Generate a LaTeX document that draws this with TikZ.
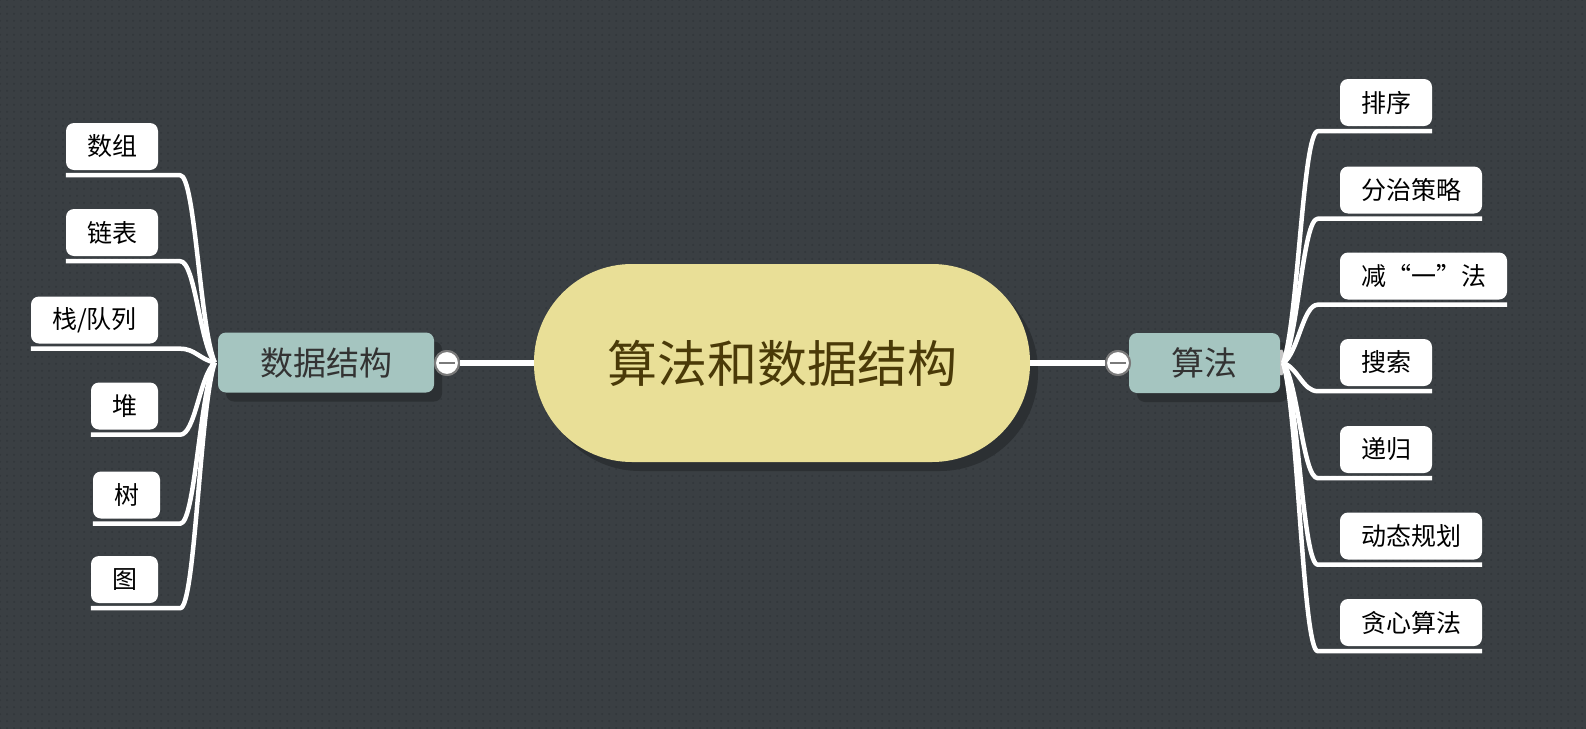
\documentclass[tikz,border=0pt]{standalone}
\usepackage{fontspec}
\setmainfont{Noto Sans CJK SC}
\usetikzlibrary{patterns,shadows}
\definecolor{bgc}{HTML}{3A3F43}
\definecolor{dotc}{HTML}{31363A}
\definecolor{tealc}{HTML}{A5C5C0}
\definecolor{rootc}{HTML}{E9DF97}
\definecolor{roottext}{HTML}{4A3A08}
\definecolor{maintext}{HTML}{333333}
\definecolor{shadowc}{HTML}{2C3033}
\definecolor{togglec}{HTML}{7A7A7A}
\pgfdeclarepatternformonly{bgdots}{\pgfpoint{-1pt}{-1pt}}{\pgfpoint{1pt}{1pt}}{\pgfpoint{7pt}{7pt}}{\pgfpathcircle{\pgfpointorigin}{1pt}\pgfusepath{fill}}
\tikzset{
  leaf/.style={fill=white, rounded corners=8pt, minimum height=47pt, inner sep=0pt,
    font=\fontsize{25}{25}\selectfont, text=black},
  mainbox/.style={fill=tealc, rounded corners=8pt, minimum height=60pt, inner sep=0pt,
    font=\fontsize{33}{33}\selectfont, text=maintext,
    general shadow={fill=shadowc, shadow xshift=8pt, shadow yshift=-9pt}},
  rootbox/.style={fill=rootc, rounded corners=98pt, minimum width=496pt, minimum height=198pt,
    inner sep=0pt, font=\fontsize{50}{50}\selectfont, text=roottext,
    general shadow={fill=shadowc, shadow xshift=8pt, shadow yshift=-9pt}},
  branch/.style={draw=white, line width=4.5pt, line join=round},
  trunk/.style={draw=white, line width=6pt},
  toggle/.style={circle, fill=white, draw=togglec, line width=2pt, minimum size=24pt, inner sep=0pt},
  minusbar/.style={draw=togglec, line width=2.5pt}
}
\begin{document}
\begin{tikzpicture}[x=1pt,y=-1pt]
\useasboundingbox (0,0) rectangle (1586,728);
\fill[bgc] (-6,-6) rectangle (1592,734);
\fill[pattern=bgdots, pattern color=dotc] (-6,-6) rectangle (1592,734);

% root and main nodes
\node[rootbox] (root) at (782,363) {算法和数据结构};
\node[mainbox, minimum width=216pt] (ds) at (326,362.5) {数据结构};
\node[mainbox, minimum width=151pt] (al) at (1204.5,363) {算法};

% trunk lines and toggles
\node[toggle] (lc) at (447,363) {};
\node[toggle] (rc) at (1118,363) {};
\draw[trunk] (lc) -- (root.west);
\draw[trunk] (root.east) -- (rc);
\node[toggle] at (lc) {};
\node[toggle] at (rc) {};
\draw[minusbar] ([xshift=-8pt]lc.center) -- ([xshift=8pt]lc.center);
\draw[minusbar] ([xshift=-8pt]rc.center) -- ([xshift=8pt]rc.center);

% left leaves
\node[leaf, minimum width=92pt] (a1) at (112,146.5) {数组};
\node[leaf, minimum width=92pt] (a2) at (112,232.5) {链表};
\node[leaf, minimum width=127pt] (a3) at (94.5,320) {栈/队列};
\node[leaf, minimum width=67pt] (a4) at (124.5,406) {堆};
\node[leaf, minimum width=67pt] (a5) at (126.5,495) {树};
\node[leaf, minimum width=67pt] (a6) at (124.5,579.5) {图};

% right leaves
\node[leaf, minimum width=92pt] (b1) at (1386,102.5) {排序};
\node[leaf, minimum width=142pt] (b2) at (1411,190) {分治策略};
\node[leaf, minimum width=167pt] (b3) at (1423.5,276) {减“一”法};
\node[leaf, minimum width=92pt] (b4) at (1386,362.5) {搜索};
\node[leaf, minimum width=92pt] (b5) at (1386,449.5) {递归};
\node[leaf, minimum width=142pt] (b6) at (1411,536) {动态规划};
\node[leaf, minimum width=142pt] (b7) at (1411,622.5) {贪心算法};

% small grey junction at the right
\fill[gray!45] ([yshift=13pt]al.east) .. controls +(6,-6) and +(6,6) .. ([yshift=-12pt]al.east) -- cycle;

% left branches
\draw[branch] ([yshift=-5pt]a1.south west) -- ([xshift=22pt,yshift=-5pt]a1.south east)
  .. controls +(15,0) and +(-15,-34) .. ([xshift=-3pt]ds.west);
\draw[branch] ([yshift=-5pt]a2.south west) -- ([xshift=22pt,yshift=-5pt]a2.south east)
  .. controls +(15,0) and +(-15,-18) .. ([xshift=-3pt]ds.west);
\draw[branch] ([yshift=-5pt]a3.south west) -- ([xshift=22pt,yshift=-5pt]a3.south east)
  .. controls +(15,0) and +(-15,-3) .. ([xshift=-3pt]ds.west);
\draw[branch] ([yshift=-5pt]a4.south west) -- ([xshift=22pt,yshift=-5pt]a4.south east)
  .. controls +(15,0) and +(-15,13) .. ([xshift=-3pt]ds.west);
\draw[branch] ([yshift=-5pt]a5.south west) -- ([xshift=20pt,yshift=-5pt]a5.south east)
  .. controls +(15,0) and +(-15,29) .. ([xshift=-3pt]ds.west);
\draw[branch] ([yshift=-5pt]a6.south west) -- ([xshift=22pt,yshift=-5pt]a6.south east)
  .. controls +(15,0) and +(-15,44) .. ([xshift=-3pt]ds.west);

% right branches
\draw[branch] ([yshift=-5pt]b1.south east) -- ([xshift=-22pt,yshift=-5pt]b1.south west)
  .. controls +(-15,0) and +(15,-42) .. ([xshift=3pt]al.east);
\draw[branch] ([yshift=-5pt]b2.south east) -- ([xshift=-22pt,yshift=-5pt]b2.south west)
  .. controls +(-15,0) and +(15,-26) .. ([xshift=3pt]al.east);
\draw[branch] ([yshift=-5pt]b3.south east) -- ([xshift=-22pt,yshift=-5pt]b3.south west)
  .. controls +(-15,0) and +(15,-10) .. ([xshift=3pt]al.east);
\draw[branch] ([yshift=-5pt]b4.south east) -- ([xshift=-22pt,yshift=-5pt]b4.south west)
  .. controls +(-15,0) and +(15,5) .. ([xshift=3pt]al.east);
\draw[branch] ([yshift=-5pt]b5.south east) -- ([xshift=-22pt,yshift=-5pt]b5.south west)
  .. controls +(-15,0) and +(15,21) .. ([xshift=3pt]al.east);
\draw[branch] ([yshift=-5pt]b6.south east) -- ([xshift=-22pt,yshift=-5pt]b6.south west)
  .. controls +(-15,0) and +(15,36) .. ([xshift=3pt]al.east);
\draw[branch] ([yshift=-5pt]b7.south east) -- ([xshift=-22pt,yshift=-5pt]b7.south west)
  .. controls +(-15,0) and +(15,52) .. ([xshift=3pt]al.east);
\end{tikzpicture}
\end{document}
